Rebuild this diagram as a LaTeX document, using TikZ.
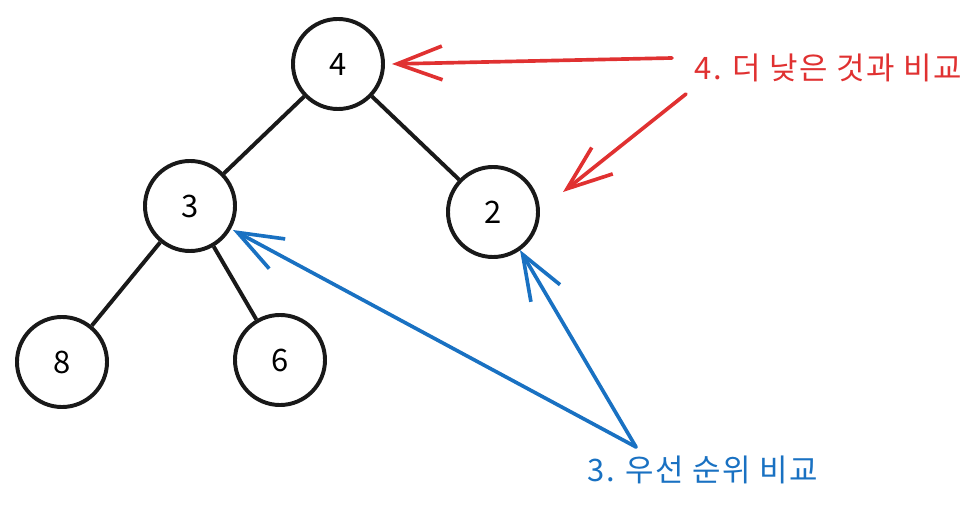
\documentclass[tikz,border=0pt]{standalone}
\usepackage{fontspec}
\newfontfamily\krfont[LetterSpace=5]{Noto Sans CJK KR}
\newfontfamily\digitfont{Noto Sans CJK KR}
\definecolor{exred}{HTML}{E03131}
\definecolor{exblue}{HTML}{1971C2}
\usetikzlibrary{arrows.meta,positioning}

\begin{document}
\begin{tikzpicture}[x=0.025cm,y=-0.025cm,
    heapnode/.style={draw=black!90,circle,line width=2.8pt,minimum size=2.25cm,inner sep=0pt,font=\digitfont\fontsize{22}{26}\selectfont},
    edge/.style={draw=black!90,line width=2.8pt},
    note/.style={font=\krfont\fontsize{22}{26}\selectfont,inner sep=0pt,anchor=west},
    pointer/.style={line width=2.6pt,line cap=round,-{Straight Barb[length=32pt,width=24pt,line width=2.6pt]}}]
    \useasboundingbox (0,0) rectangle (974,510);

    % heap
    \node[heapnode] (n4) at (338,64) {4};
    \node[heapnode] (n3) at (190,206) {3};
    \node[heapnode] (n2) at (493,212) {2};
    \node[heapnode] (n8) at (62,362) {8};
    \node[heapnode] (n6) at (280,360) {6};
    \draw[edge] (n4) -- (n3);
    \draw[edge] (n4) -- (n2);
    \draw[edge] (n3) -- (n8);
    \draw[edge] (n3) -- (n6);

    % 4. compare with lower
    \node[note,text=exred] (lowlbl) at (694,68) {4. 더 낮은 것과 비교};
    \coordinate (redsrc1) at (672,58);
    \coordinate (redsrc2) at (686,94);
    \coordinate (redtip1) at (392,64);
    \coordinate (redtip2) at (563,192);
    \draw[pointer,exred] (redsrc1) -- (redtip1);
    \draw[pointer,exred] (redsrc2) -- (redtip2);

    % 3. compare priority
    \node[note,text=exblue] (prilbl) at (587,470) {3. 우선 순위 비교};
    \coordinate (bluesrc) at (636,447);
    \coordinate (bluetip1) at (233,230);
    \coordinate (bluetip2) at (520,250);
    \draw[pointer,exblue] (bluesrc) -- (bluetip1);
    \draw[pointer,exblue] (bluesrc) -- (bluetip2);
\end{tikzpicture}
\end{document}
